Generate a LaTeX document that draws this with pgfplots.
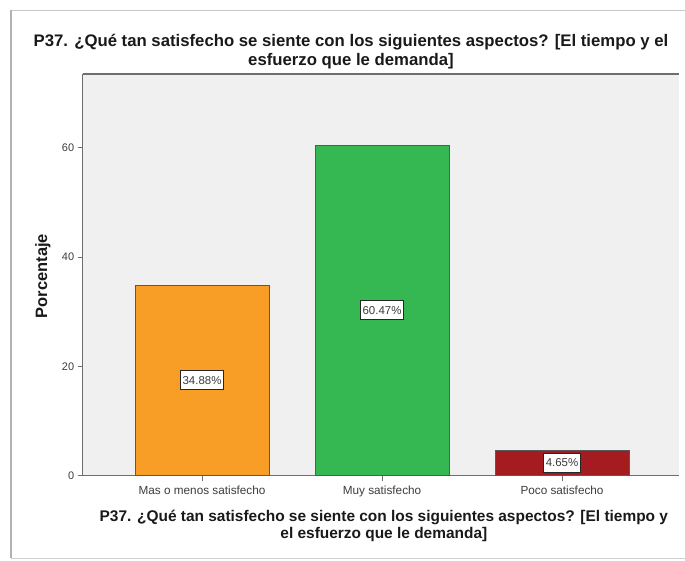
\documentclass[border=0pt]{standalone}
\usepackage{pgfplots}
\pgfplotsset{compat=1.18}
\usepackage{fontspec}
\setmainfont{Liberation Sans}

\definecolor{plotbg}{HTML}{F0F0F0}
\definecolor{barorange}{HTML}{F89D25}
\definecolor{bargreen}{HTML}{35B851}
\definecolor{barred}{HTML}{A51C20}
\definecolor{axisgray}{HTML}{6E6E6E}
\definecolor{labelgray}{HTML}{3C3C3C}

\begin{document}
\begin{tikzpicture}
\begin{scope}[x=1bp,y=-1bp]
  % frame round the chart
  \draw[black!22, line width=1bp] (11,10) -- (685,10);
  \draw[black!30, line width=2.5bp] (11,10) -- (11,558);
  \draw[black!18, line width=1bp] (11,558) -- (685,558);
  \node[font=\bfseries\fontsize{16.8}{19.5}\selectfont, align=center, text=black!90]
    at (351,51.5) {P37. ¿Qué tan satisfecho se siente con los siguientes aspectos? [El tiempo y el\\esfuerzo que le demanda]};
\end{scope}

\begin{axis}[
  at={(82.7bp,-475.7bp)}, anchor=south west,
  width=596.3bp, height=401.7bp, scale only axis,
  xmin=-0.663, xmax=2.65, ymin=0, ymax=73.5,
  ybar, bar width=0.744, bar shift=0pt,
  axis background/.style={fill=plotbg},
  axis x line*=bottom, axis y line*=left,
  axis line style={draw=axisgray, line width=1.2bp},
  xtick={0,1,2},
  xticklabels={Mas o menos satisfecho, Muy satisfecho, Poco satisfecho},
  ytick={0,20,40,60},
  tick align=outside, major tick length=5bp,
  tick style={draw=axisgray, line width=0.8bp},
  /pgf/number format/assume math mode=true,
  xticklabel style={font=\fontsize{11.8}{13}\selectfont, text=labelgray, yshift=-2bp},
  yticklabel style={font=\fontsize{11}{12}\selectfont, text=labelgray},
  xlabel={P37. ¿Qué tan satisfecho se siente con los siguientes aspectos? [El tiempo y\\el esfuerzo que le demanda]},
  xlabel style={at={(rel axis cs:0.505,-0.124)}, anchor=center, align=center,
    font=\bfseries\fontsize{15.5}{17}\selectfont, text=black!90},
  ylabel={Porcentaje},
  ylabel style={at={(rel axis cs:-0.0666,0.497)}, anchor=center,
    font=\bfseries\fontsize{16.5}{18}\selectfont, text=black!90},
  visualization depends on={y \as \rawy},
  nodes near coords={\pgfmathprintnumber[fixed,precision=2,fixed zerofill]{\pgfplotspointmeta}\%},
  every node near coord/.append style={anchor=center,
    shift={(axis direction cs:0,{-0.5*\rawy})},
    font=\fontsize{11.5}{12}\selectfont, text=labelgray,
    draw=black!85, line width=1bp, fill=white, inner xsep=2bp,
    minimum height=19bp},
  after end axis/.code={\draw[axisgray, line width=1.2bp] (rel axis cs:0,1) -- (rel axis cs:1,1);},
]
\addplot[draw=black!65, line width=0.8bp, fill=barorange] coordinates {(0,34.88)};
\addplot[draw=black!65, line width=0.8bp, fill=bargreen] coordinates {(1,60.47)};
\addplot[draw=black!65, line width=0.8bp, fill=barred] coordinates {(2,4.65)};
\end{axis}
\pgfresetboundingbox
\path[use as bounding box] (0,0) rectangle (685bp,-561bp);
\end{tikzpicture}
\end{document}
